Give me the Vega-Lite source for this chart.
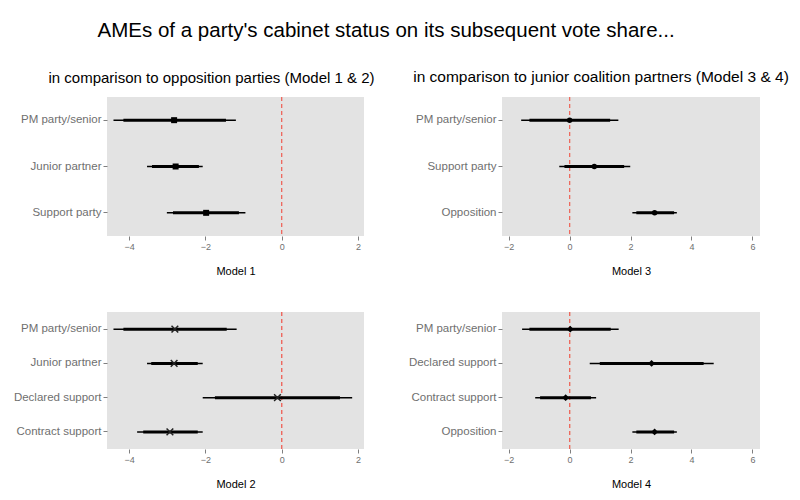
{
  "$schema": "https://vega.github.io/schema/vega-lite/v6.json",
  "padding": {"left": 13, "top": 20, "right": 10, "bottom": 10},
  "background": "white",
  "title": {"text": "AMEs of a party's cabinet status on its subsequent vote share...", "fontSize": 20.5, "fontWeight": "normal", "font": "Liberation Sans", "color": "black", "anchor": "middle", "dx": -15, "offset": 29},
  "datasets": {
    "m1": [
      {"cat": "PM party/senior", "est": -2.82, "lo": -4.41, "hi": -1.20, "lo2": -4.15, "hi2": -1.46},
      {"cat": "Junior partner", "est": -2.78, "lo": -3.53, "hi": -2.07, "lo2": -3.40, "hi2": -2.17},
      {"cat": "Support party", "est": -1.98, "lo": -3.01, "hi": -0.95, "lo2": -2.85, "hi2": -1.12}
    ],
    "m2": [
      {"cat": "PM party/senior", "est": -2.80, "lo": -4.41, "hi": -1.18, "lo2": -4.15, "hi2": -1.44},
      {"cat": "Junior partner", "est": -2.82, "lo": -3.53, "hi": -2.07, "lo2": -3.42, "hi2": -2.20},
      {"cat": "Declared support", "est": -0.11, "lo": -2.07, "hi": 1.85, "lo2": -1.75, "hi2": 1.53},
      {"cat": "Contract support", "est": -2.93, "lo": -3.79, "hi": -2.07, "lo2": -3.63, "hi2": -2.20}
    ],
    "m3": [
      {"cat": "PM party/senior", "est": 0.00, "lo": -1.59, "hi": 1.60, "lo2": -1.32, "hi2": 1.33},
      {"cat": "Support party", "est": 0.81, "lo": -0.34, "hi": 1.99, "lo2": -0.17, "hi2": 1.79},
      {"cat": "Opposition", "est": 2.79, "lo": 2.06, "hi": 3.52, "lo2": 2.19, "hi2": 3.43}
    ],
    "m4": [
      {"cat": "PM party/senior", "est": 0.02, "lo": -1.56, "hi": 1.61, "lo2": -1.32, "hi2": 1.35},
      {"cat": "Declared support", "est": 2.69, "lo": 0.66, "hi": 4.73, "lo2": 0.99, "hi2": 4.40},
      {"cat": "Contract support", "est": -0.13, "lo": -1.13, "hi": 0.87, "lo2": -0.97, "hi2": 0.70},
      {"cat": "Opposition", "est": 2.79, "lo": 2.06, "hi": 3.52, "lo2": 2.19, "hi2": 3.43}
    ]
  },
  "columns": 2,
  "spacing": {"row": 76, "column": 138},
  "bounds": "flush",
  "concat": [
    {
      "title": {"text": "in comparison to opposition parties (Model 1 & 2)", "fontSize": 15, "fontWeight": "normal", "font": "Liberation Sans", "color": "black", "offset": 11, "dx": -24},
      "width": 257, "height": 139,
      "data": {"name": "m1"},
      "encoding": {
        "y": {"field": "cat", "type": "nominal", "sort": ["PM party/senior", "Junior partner", "Support party"], "axis": {"title": null, "labelFontSize": 11.5, "labelPadding": 2}}
      },
      "layer": [
        {"mark": {"type": "rule", "color": "#ee6a5f", "strokeDash": [4, 3], "strokeWidth": 1}, "encoding": {"x": {"datum": 0, "type": "quantitative"}, "y": null}},
        {"mark": {"type": "rule", "color": "black", "strokeWidth": 1.5}, "encoding": {"x": {"field": "lo", "type": "quantitative", "scale": {"domain": [-4.58, 2.16], "nice": false, "zero": false}, "axis": {"values": [-4, -2, 0, 2], "title": "Model 1", "labelFontSize": 9, "titleFontSize": 11, "titleColor": "black", "titlePadding": 14}}, "x2": {"field": "hi"}}},
        {"mark": {"type": "rule", "color": "black", "strokeWidth": 3}, "encoding": {"x": {"field": "lo2", "type": "quantitative"}, "x2": {"field": "hi2"}}},
        {"mark": {"type": "point", "shape": "square", "filled": true, "color": "black", "size": 36, "opacity": 1}, "encoding": {"x": {"field": "est", "type": "quantitative"}}}
      ]
    },
    {
      "title": {"text": "in comparison to junior coalition partners (Model 3 & 4)", "fontSize": 15.5, "fontWeight": "normal", "font": "Liberation Sans", "color": "black", "offset": 11, "dx": -30},
      "width": 258, "height": 139,
      "data": {"name": "m3"},
      "encoding": {
        "y": {"field": "cat", "type": "nominal", "sort": ["PM party/senior", "Support party", "Opposition"], "axis": {"title": null, "labelFontSize": 11.5, "labelPadding": 2}}
      },
      "layer": [
        {"mark": {"type": "rule", "color": "#ee6a5f", "strokeDash": [4, 3], "strokeWidth": 1}, "encoding": {"x": {"datum": 0, "type": "quantitative"}, "y": null}},
        {"mark": {"type": "rule", "color": "black", "strokeWidth": 1.5}, "encoding": {"x": {"field": "lo", "type": "quantitative", "scale": {"domain": [-2.22, 6.25], "nice": false, "zero": false}, "axis": {"values": [-2, 0, 2, 4, 6], "title": "Model 3", "labelFontSize": 9, "titleFontSize": 11, "titleColor": "black", "titlePadding": 14}}, "x2": {"field": "hi"}}},
        {"mark": {"type": "rule", "color": "black", "strokeWidth": 3}, "encoding": {"x": {"field": "lo2", "type": "quantitative"}, "x2": {"field": "hi2"}}},
        {"mark": {"type": "point", "shape": "circle", "filled": true, "color": "black", "size": 30, "opacity": 1}, "encoding": {"x": {"field": "est", "type": "quantitative"}}}
      ]
    },
    {
      "width": 257, "height": 137,
      "data": {"name": "m2"},
      "encoding": {
        "y": {"field": "cat", "type": "nominal", "sort": ["PM party/senior", "Junior partner", "Declared support", "Contract support"], "axis": {"title": null, "labelFontSize": 11.5, "labelPadding": 2}}
      },
      "layer": [
        {"mark": {"type": "rule", "color": "#ee6a5f", "strokeDash": [4, 3], "strokeWidth": 1}, "encoding": {"x": {"datum": 0, "type": "quantitative"}, "y": null}},
        {"mark": {"type": "rule", "color": "black", "strokeWidth": 1.5}, "encoding": {"x": {"field": "lo", "type": "quantitative", "scale": {"domain": [-4.58, 2.16], "nice": false, "zero": false}, "axis": {"values": [-4, -2, 0, 2], "title": "Model 2", "labelFontSize": 9, "titleFontSize": 11, "titleColor": "black", "titlePadding": 14}}, "x2": {"field": "hi"}}},
        {"mark": {"type": "rule", "color": "black", "strokeWidth": 3}, "encoding": {"x": {"field": "lo2", "type": "quantitative"}, "x2": {"field": "hi2"}}},
        {"mark": {"type": "point", "shape": "M-1,-1L1,1M-1,1L1,-1", "filled": false, "color": "#222222", "strokeWidth": 1.5, "size": 45, "opacity": 1}, "encoding": {"x": {"field": "est", "type": "quantitative"}}}
      ]
    },
    {
      "width": 258, "height": 137,
      "data": {"name": "m4"},
      "encoding": {
        "y": {"field": "cat", "type": "nominal", "sort": ["PM party/senior", "Declared support", "Contract support", "Opposition"], "axis": {"title": null, "labelFontSize": 11.5, "labelPadding": 2}}
      },
      "layer": [
        {"mark": {"type": "rule", "color": "#ee6a5f", "strokeDash": [4, 3], "strokeWidth": 1}, "encoding": {"x": {"datum": 0, "type": "quantitative"}, "y": null}},
        {"mark": {"type": "rule", "color": "black", "strokeWidth": 1.5}, "encoding": {"x": {"field": "lo", "type": "quantitative", "scale": {"domain": [-2.22, 6.25], "nice": false, "zero": false}, "axis": {"values": [-2, 0, 2, 4, 6], "title": "Model 4", "labelFontSize": 9, "titleFontSize": 11, "titleColor": "black", "titlePadding": 14}}, "x2": {"field": "hi"}}},
        {"mark": {"type": "rule", "color": "black", "strokeWidth": 3}, "encoding": {"x": {"field": "lo2", "type": "quantitative"}, "x2": {"field": "hi2"}}},
        {"mark": {"type": "point", "shape": "diamond", "filled": true, "color": "black", "size": 48, "opacity": 1}, "encoding": {"x": {"field": "est", "type": "quantitative"}}}
      ]
    }
  ],
  "resolve": {"scale": {"x": "independent", "y": "independent"}},
  "config": {
    "font": "Liberation Sans",
    "view": {"fill": "#e3e3e3", "stroke": null},
    "axis": {"gridColor": "white", "gridWidth": 1, "domain": false, "tickColor": "#7f7f7f", "tickSize": 4, "labelColor": "#6f6f6f", "labelFont": "Liberation Sans", "titleFont": "Liberation Sans", "titleFontWeight": "normal"}
  }
}
